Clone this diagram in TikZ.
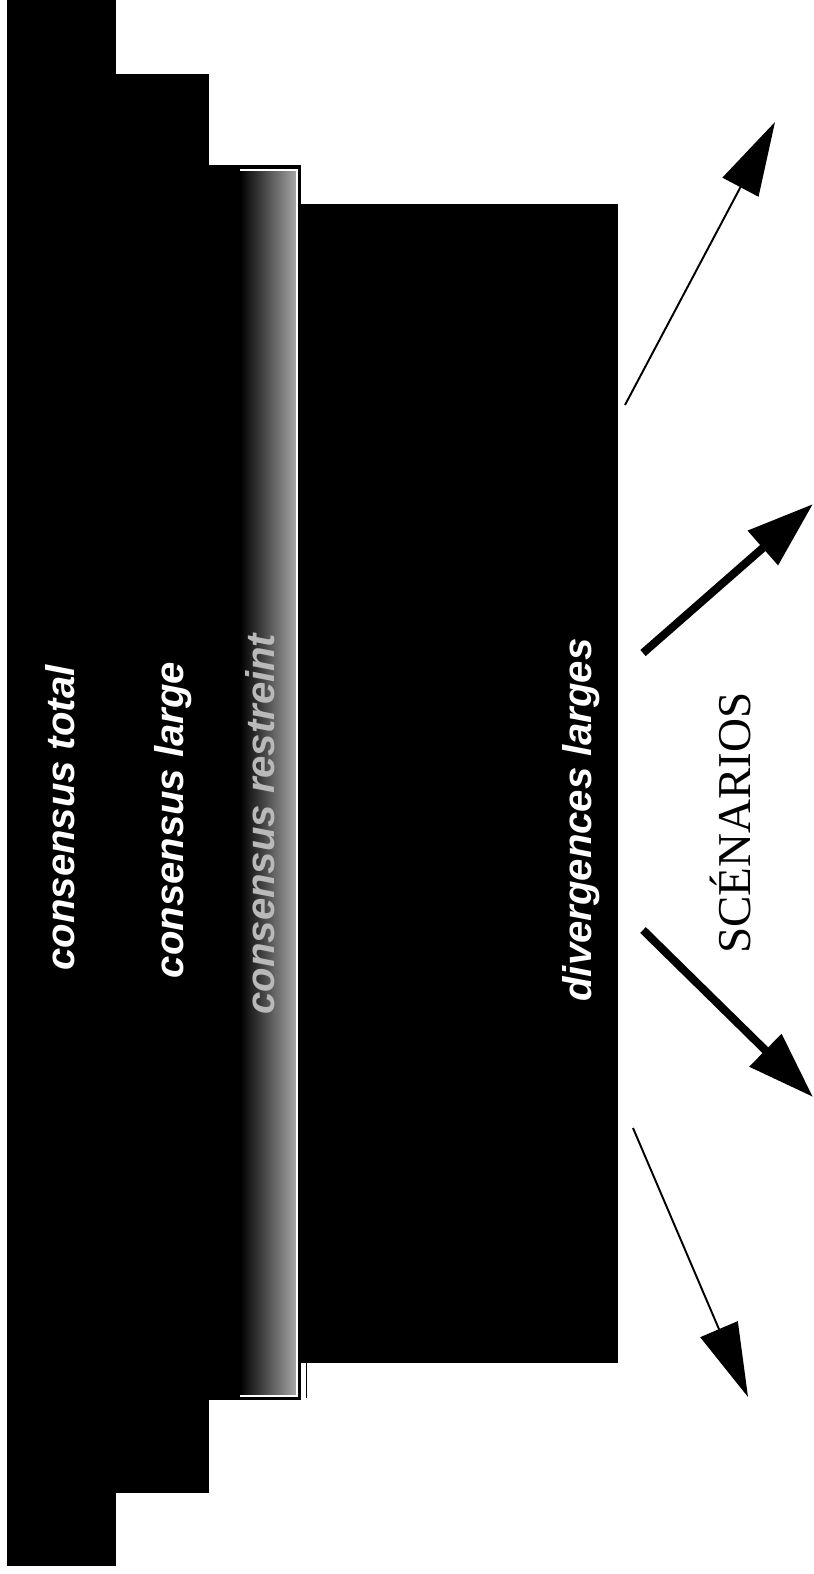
\documentclass[tikz,border=0pt]{standalone}
\usepackage{fontspec}
\setmainfont{Liberation Serif}
\setsansfont{Liberation Sans}
\usetikzlibrary{arrows.meta}

\tikzset{
  levellabel/.style={text=white, rotate=90, anchor=base, inner sep=0pt,
    font=\sffamily\bfseries\itshape\fontsize{22.8}{24}\selectfont},
  thinarrow/.style={line width=1.1pt, -{Triangle[length=42pt,width=23pt]}},
  thickarrow/.style={line width=4.6pt, -{Triangle[length=38pt,width=25pt]}}
}

\begin{document}
\begin{tikzpicture}[x=0.02cm, y=-0.02cm]

    % Fix the page size
    \useasboundingbox (0,0) rectangle (814,1574);

    % Draw the stacked blocks, widest first
    \fill[black] (7,0) rectangle (116,1566);
    \fill[black] (115,74) rectangle (209,1493);
    \fill[black] (208,165) rectangle (301,1400);
    \shade[left color=black, right color=gray!70] (240,171) rectangle (296,1395);
    \draw[white, line width=0.6pt] (240,170) -- (297,170) -- (297,1396) -- (240,1396);
    \fill[black] (300,204) rectangle (618,1363);
    \draw[line width=0.5pt] (306,1363) -- (306,1398);

    % Draw the labels of the blocks
    \node[levellabel] (total) at (74,818) {consensus total};
    \node[levellabel] (large) at (183,820) {consensus large};
    \node[levellabel, text=gray!55] (restreint) at (274,824) {consensus restreint};
    \node[levellabel] (divergences) at (591,820) {divergences larges};

    % Draw the scenario label
    \node[rotate=90, anchor=base, inner sep=0pt, font=\fontsize{26.8}{28}\selectfont]
        (scenarios) at (750,823) {SCÉNARIOS};

    % Draw the arrows fanning out
    \coordinate (s1) at (625,405);
    \coordinate (t1) at (775,122);
    \coordinate (s2) at (643,653);
    \coordinate (t2) at (813,504);
    \coordinate (s3) at (643,930);
    \coordinate (t3) at (813,1097);
    \coordinate (s4) at (633,1128);
    \coordinate (t4) at (748,1397);
    \draw[thinarrow] (s1) -- (t1);
    \draw[thickarrow] (s2) -- (t2);
    \draw[thickarrow] (s3) -- (t3);
    \draw[thinarrow] (s4) -- (t4);
\end{tikzpicture}
\end{document}
